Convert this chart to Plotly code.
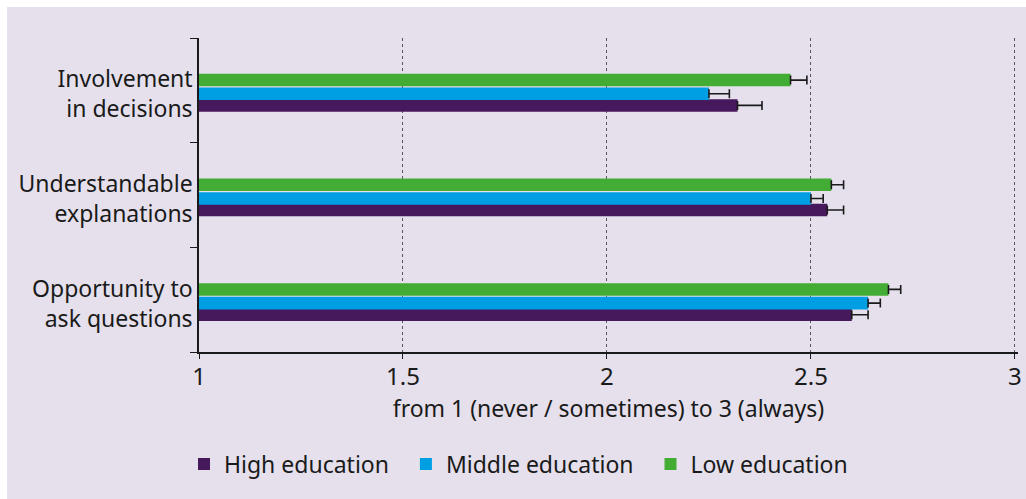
import plotly.graph_objects as go

# Survey items (bottom to top on the chart)
categories = [
    "Opportunity to<br>ask questions",
    "Understandable<br>explanations",
    "Involvement<br>in decisions",
]

# Mean scores per education level, same order as categories
high_education = [2.60, 2.54, 2.32]
middle_education = [2.64, 2.50, 2.25]
low_education = [2.69, 2.55, 2.45]

# Upper end of the error bars
high_upper = [2.64, 2.58, 2.38]
middle_upper = [2.67, 2.53, 2.30]
low_upper = [2.72, 2.58, 2.49]

series_names = ["High education", "Middle education", "Low education"]
colors = ["#46185c", "#009fe3", "#43ac34"]

W, H = 1026, 499
ML, MR, MT, MB = 199, 8, 38, 147
plot_w = W - ML - MR
plot_h = H - MT - MB

bar_w = 0.12
offsets = [-0.204, -0.093, 0.038]

fig = go.Figure()
for name, vals, upper, col, off in zip(
    series_names,
    [high_education, middle_education, low_education],
    [high_upper, middle_upper, low_upper],
    colors,
    offsets,
):
    fig.add_trace(go.Bar(
        name=name + "&nbsp;&nbsp;",
        y=categories,
        x=[v - 1 for v in vals],
        base=1,
        orientation="h",
        marker=dict(color=col, line=dict(width=0)),
        width=bar_w,
        offset=off,
        error_x=dict(
            type="data",
            symmetric=False,
            array=[u - v for u, v in zip(upper, vals)],
            arrayminus=[0] * len(vals),
            color="#1a1a1a",
            thickness=1.6,
            width=4.5,
        ),
    ))

# Lavender panel behind the whole figure, leaving a thin white edge top/left
fig.add_shape(
    type="rect", xref="paper", yref="paper", layer="below",
    x0=(7 - ML) / plot_w, x1=(W - ML + 5) / plot_w,
    y0=-(MB + 5) / plot_h, y1=1 + (MT - 7) / plot_h,
    fillcolor="#e5e0ec", line=dict(width=0),
)

font_family = "Noto Sans, Open Sans, sans-serif"

fig.update_layout(
    width=W, height=H,
    margin=dict(l=ML, r=MR, t=MT, b=MB, autoexpand=False),
    paper_bgcolor="white",
    plot_bgcolor="white",
    barmode="overlay",
    font=dict(family=font_family, size=23, color="#1a1a1a"),
    showlegend=True,
    legend=dict(
        orientation="h",
        x=(184 - ML) / plot_w, xanchor="left",
        y=-(464 - (MT + plot_h)) / plot_h, yanchor="middle",
        bgcolor="rgba(0,0,0,0)",
        font=dict(size=23, color="#1a1a1a"),
        itemwidth=30,
    ),
    xaxis=dict(
        range=[1, 3.0075],
        tickvals=[1, 1.5, 2, 2.5, 3],
        ticktext=["1", "1.5", "2", "2.5", "3"],
        showgrid=True,
        gridcolor="#555555",
        griddash="dot",
        gridwidth=1,
        zeroline=False,
        showline=True,
        linecolor="#1a1a1a",
        linewidth=1.5,
        ticks="outside",
        ticklen=5,
        tickcolor="#1a1a1a",
        tickfont=dict(size=24),
        ticklabelstandoff=-3,
        title=dict(
            text="from 1 (never / sometimes) to 3 (always)",
            font=dict(size=23),
            standoff=4,
        ),
    ),
    yaxis=dict(
        type="category",
        categoryorder="array",
        categoryarray=categories,
        range=[-0.5, 2.5],
        showgrid=False,
        zeroline=False,
        showline=True,
        linecolor="#1a1a1a",
        linewidth=1.5,
        ticks="outside",
        tickson="boundaries",
        ticklen=7,
        tickcolor="#1a1a1a",
        tickfont=dict(size=23),
        ticklabelshift=4,
    ),
)

fig.write_html("out.html")
